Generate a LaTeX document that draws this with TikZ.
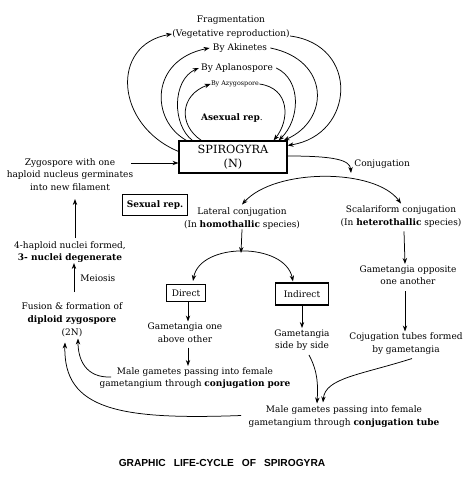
\documentclass[tikz,border=0pt]{standalone}
\usepackage{fontspec}
\setmainfont{DejaVu Serif}
\newfontfamily\titlefont{Liberation Sans}
\usetikzlibrary{arrows.meta}
\begin{document}
\begin{tikzpicture}[x=1pt,y=-1pt,
  >={Stealth[length=6pt,width=4.4pt]},
  line width=0.75pt,
  txt/.style={align=center,inner sep=0pt,font=\fontsize{9}{12.5}\selectfont},
  boxed/.style={draw,line width=1.1pt,inner sep=0pt},
  arr/.style={->,line width=0.75pt}]
\useasboundingbox (0,0) rectangle (475,478);

% ---- texts
\node[txt,font=\fontsize{9}{14}\selectfont] (frag) at (231,27) {Fragmentation\\(Vegetative reproduction)};
\node[txt] (akin) at (240,48) {By Akinetes};
\node[txt] (aplano) at (237,68) {By Aplanospore};
\node[txt,font=\fontsize{6.4}{7}\selectfont] (azygo) at (235,84) {By Azygospore};
\node[txt] (asex) at (232,118) {\textbf{Asexual rep}.};
\node[boxed,txt,font=\fontsize{11.3}{14}\selectfont,minimum width=108pt,minimum height=32pt] (spir) at (233,157) {SPIROGYRA\\(N)};
\node[txt,anchor=west] (conjl) at (354,164) {Conjugation};
\node[boxed,txt,minimum width=65pt,minimum height=21pt] (sex) at (155,205) {\textbf{Sexual rep.}};
\node[txt] (zyg) at (70,174.5) {Zygospore with one\\haploid nucleus germinates\\into new filament};
\node[txt] (four) at (70,252) {4-haploid nuclei formed,\\\textbf{3- nuclei degenerate}};
\node[txt,anchor=west] (meio) at (80,278) {Meiosis};
\node[txt,font=\fontsize{9}{13}\selectfont] (fusion) at (72,320) {Fusion \& formation of\\\textbf{diploid zygospore}\\(2N)};
\node[txt] (lat) at (242,218.5) {Lateral conjugation\\(In \textbf{homothallic} species)};
\node[txt] (scal) at (401,216.5) {Scalariform conjugation\\(In \textbf{heterothallic} species)};
\node[boxed,txt,minimum width=39pt,minimum height=17pt] (direct) at (186,293) {Direct};
\node[boxed,txt,minimum width=53pt,minimum height=22pt] (indirect) at (302,294) {Indirect};
\node[txt] (gam1) at (185,332.5) {Gametangia one\\above other};
\node[txt] (pore) at (195,378) {Male gametes passing into female\\gametangium through \textbf{conjugation pore}};
\node[txt] (gam2) at (302,340) {Gametangia\\side by side};
\node[txt] (gamopp) at (408,275) {Gametangia opposite\\one another};
\node[txt] (tubes) at (406,343.5) {Cojugation tubes formed\\by gametangia};
\node[txt] (tube) at (344,416.5) {Male gametes passing into female\\gametangium through \textbf{conjugation tube}};
\node[inner sep=0pt,font=\titlefont\bfseries\fontsize{10.2}{12}\selectfont] (title) at (222,463) {GRAPHIC\hspace{8pt}LIFE-CYCLE\hspace{8pt}OF\hspace{8pt}SPIROGYRA};

% ---- asexual loops (from box, arrow into the texts)
\draw[arr] ([yshift=-11pt]spir.north west) .. controls (115,125) and (110,45) .. (frag.west |- 0,34);
\draw[arr] ([xshift=8pt]spir.north west) .. controls (150,120) and (150,60) .. ([xshift=-3pt]akin.west);
\draw[arr] ([xshift=14pt]spir.north west) .. controls (172,125) and (172,80) .. ([xshift=-2pt]aplano.west);
\draw[arr] ([xshift=23pt]spir.north west) .. controls (178,125) and (180,95) .. (azygo.west);
% right sides, from texts back to box
\draw[arr] (frag.east |- 0,36) .. controls (360,45) and (355,135) .. ([yshift=-5pt]spir.north east);
\draw[arr] ([xshift=3pt]akin.east) .. controls (330,60) and (330,120) .. ([xshift=-4pt]spir.north east);
\draw[arr] ([xshift=3pt]aplano.east) .. controls (302,80) and (300,120) .. ([xshift=-9pt]spir.north east);
\draw[arr] (azygo.east) .. controls (290,88) and (290,120) .. ([xshift=-14pt]spir.north east);

% ---- zygospore to spirogyra, up the left column
\coordinate (zs) at (131,163);
\draw[arr] (zs) -- (spir.west |- zs);
\coordinate (fourtop) at (75,238);
\draw[arr] (fourtop) -- (fourtop |- 0,199);
\coordinate (fustop) at (74,292);
\draw[arr] (fustop) -- (fustop |- 0,263);

% ---- conjugation
\draw[arr] ([yshift=1pt]spir.east) .. controls (335,156) and (350,160) .. (351,173);
\draw[<->] ([yshift=3pt]lat.north) .. controls (275,168) and (375,168) .. ([yshift=2pt]scal.north);

% lateral branch
\draw[arr] (lat.south) -- (241,253);
\draw[<->] ([xshift=7pt,yshift=3pt]direct.north) .. controls (200,242) and (285,242) .. ([xshift=-9pt,yshift=1pt]indirect.north);
\draw[arr] ([xshift=2pt]direct.south) -- ([xshift=3pt,yshift=1pt]gam1.north);
\draw[arr] ([xshift=3pt,yshift=-5pt]gam1.south) -- ([xshift=-7pt,yshift=1pt]pore.north);
\draw[arr] (indirect.south) -- ([yshift=1pt]gam2.north);

% scalariform branch
\draw[arr] ([xshift=3pt,yshift=-4pt]scal.south) -- ([xshift=-3pt,yshift=1pt]gamopp.north);
\draw[arr] ([xshift=-3pt,yshift=-6pt]gamopp.south) -- ([yshift=1pt]tubes.north -| 405,0);

% to conjugation tube
\draw[arr] ([xshift=7pt,yshift=-4pt]gam2.south) .. controls (318,372) and (318,385) .. ([xshift=-27pt,yshift=2pt]tube.north);
\draw[arr] ([xshift=6pt,yshift=-4pt]tubes.south) .. controls (360,375) and (325,378) .. ([xshift=-21pt,yshift=3pt]tube.north);

% to fusion
\coordinate (porel) at (111,377);
\draw[arr] (porel) .. controls (86,378) and (78,360) .. ([xshift=6pt,yshift=-1pt]fusion.south);
\draw[arr] ([xshift=-7pt,yshift=1pt]tube.west) .. controls (120,420) and (63,410) .. ([xshift=-7pt,yshift=-5pt]fusion.south);
\end{tikzpicture}
\end{document}
